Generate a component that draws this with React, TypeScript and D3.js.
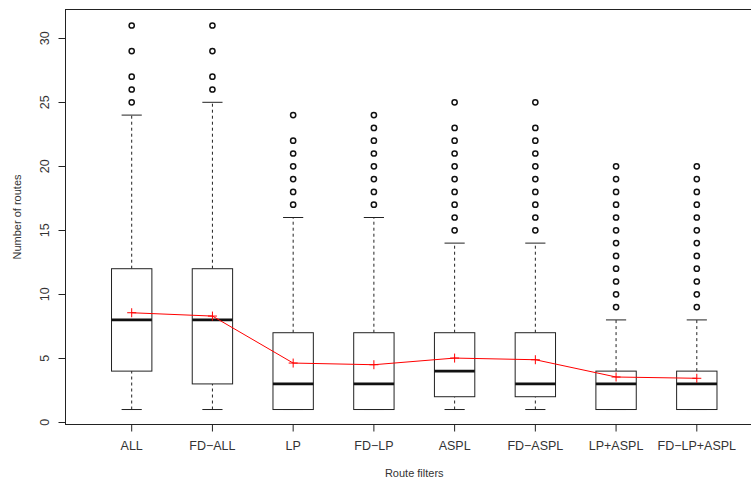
import React from "react";
import * as d3 from "d3";

const categories = ["ALL", "FD\u2212ALL", "LP", "FD\u2212LP", "ASPL", "FD\u2212ASPL", "LP+ASPL", "FD\u2212LP+ASPL"];
const lowerWhisker = [1, 1, 1, 1, 1, 1, 1, 1];
const q1 = [4, 3, 1, 1, 2, 2, 1, 1];
const medians = [8, 8, 3, 3, 4, 3, 3, 3];
const q3 = [12, 12, 7, 7, 7, 7, 4, 4];
const upperWhisker = [24, 25, 16, 16, 14, 14, 8, 8];
const outliers = [
  [25, 26, 27, 29, 31],
  [26, 27, 29, 31],
  [17, 18, 19, 20, 21, 22, 24],
  [17, 18, 19, 20, 21, 22, 23, 24],
  [15, 16, 17, 18, 19, 20, 21, 22, 23, 25],
  [15, 16, 17, 18, 19, 20, 21, 22, 23, 25],
  [9, 10, 11, 12, 13, 14, 15, 16, 17, 18, 19, 20],
  [9, 10, 11, 12, 13, 14, 15, 16, 17, 18, 19, 20],
];
const means = [8.56, 8.3, 4.63, 4.5, 5.02, 4.89, 3.54, 3.44];
const yTicks = [0, 5, 10, 15, 20, 25, 30];

const W = 751;
const H = 479;
const left = 65.5;
const top = 9.5;
const bottom = 424.5;
const right = 763;

export default function App() {
  const x = d3.scaleLinear().domain([0.18, 8.82]).range([left, right]);
  const y = d3.scaleLinear().domain([-0.17, 32.25]).range([bottom, top]);
  const bw = x(1.25) - x(1); // half box width
  const cw = x(1.125) - x(1); // half cap width
  const font = "'Liberation Sans', Arial, Helvetica, sans-serif";
  const ink = "#222";
  const meanLine = d3
    .line<number>()
    .x((_, i) => x(i + 1))
    .y((d) => y(d));

  return (
    <svg
      width={W}
      height={H}
      style={{ position: "absolute", left: 0, top: 0, background: "#fff" }}
      fontFamily={font}
    >
      <rect x={0} y={0} width={W} height={H} fill="#fff" />
      {/* frame */}
      <rect x={left} y={top} width={right - left} height={bottom - top} fill="none" stroke={ink} strokeWidth={1} />
      {/* y axis */}
      {yTicks.map((t) => (
        <g key={t}>
          <line x1={left - 7} x2={left} y1={Math.round(y(t)) + 0.5} y2={Math.round(y(t)) + 0.5} stroke={ink} />
          <text
            transform={`translate(${left - 17},${y(t)}) rotate(-90)`}
            textAnchor="middle"
            fontSize={12.5}
            fill="#333"
          >
            {t}
          </text>
        </g>
      ))}
      <text transform={`translate(21,${(top + bottom) / 2}) rotate(-90)`} textAnchor="middle" fontSize={11} fill="#333">
        Number of routes
      </text>
      {/* x axis */}
      {categories.map((c, i) => (
        <g key={c}>
          <line x1={x(i + 1)} x2={x(i + 1)} y1={bottom} y2={bottom + 7} stroke={ink} />
          <text x={x(i + 1)} y={450} textAnchor="middle" fontSize={12.5} fill="#333">
            {c}
          </text>
        </g>
      ))}
      <text x={(left + right) / 2} y={477} textAnchor="middle" fontSize={11} fill="#333">
        Route filters
      </text>
      {/* boxes */}
      {categories.map((c, i) => {
        const cx = x(i + 1);
        return (
          <g key={"b" + c}>
            <line x1={cx} x2={cx} y1={y(q3[i])} y2={y(upperWhisker[i])} stroke={ink} strokeDasharray="3,3" />
            <line x1={cx} x2={cx} y1={y(lowerWhisker[i])} y2={y(q1[i])} stroke={ink} strokeDasharray="3,3" />
            <line x1={cx - cw} x2={cx + cw} y1={y(upperWhisker[i])} y2={y(upperWhisker[i])} stroke={ink} />
            <line x1={cx - cw} x2={cx + cw} y1={y(lowerWhisker[i])} y2={y(lowerWhisker[i])} stroke={ink} />
            <rect
              x={cx - bw}
              y={y(q3[i])}
              width={2 * bw}
              height={y(q1[i]) - y(q3[i])}
              fill="#fff"
              stroke={ink}
              strokeWidth={1}
            />
            <line x1={cx - bw} x2={cx + bw} y1={y(medians[i])} y2={y(medians[i])} stroke="#111" strokeWidth={2.6} />
            {outliers[i].map((o, j) => (
              <circle key={j} cx={cx} cy={y(o)} r={2.6} fill="none" stroke="#111" strokeWidth={1.5} />
            ))}
          </g>
        );
      })}
      {/* means */}
      <path d={meanLine(means) || ""} fill="none" stroke="#ff0000" strokeWidth={1} />
      {means.map((m, i) => (
        <g key={"m" + i} stroke="#ff0000" strokeWidth={1}>
          <line x1={x(i + 1) - 4.5} x2={x(i + 1) + 4.5} y1={y(m)} y2={y(m)} />
          <line x1={x(i + 1)} x2={x(i + 1)} y1={y(m) - 4.5} y2={y(m) + 4.5} />
        </g>
      ))}
    </svg>
  );
}
